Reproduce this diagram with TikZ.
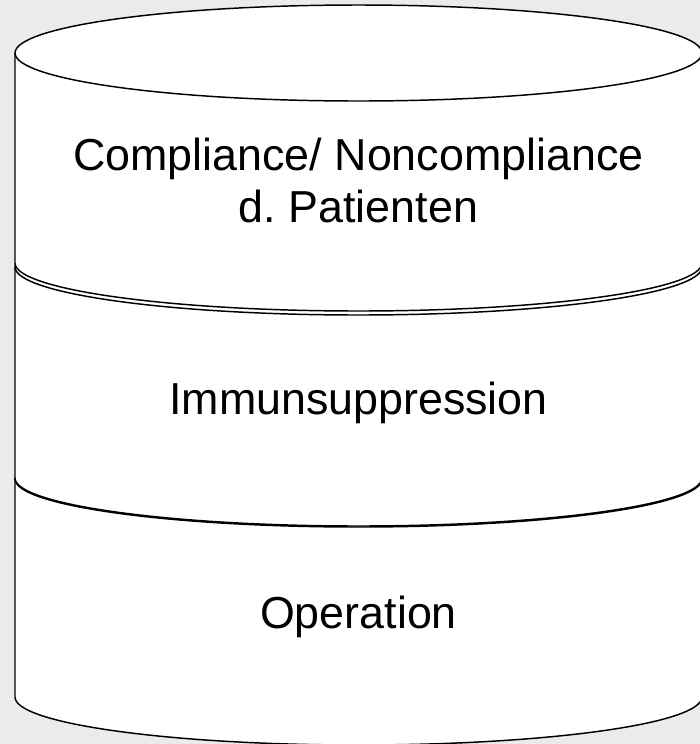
\documentclass[tikz,border=0pt]{standalone}
\usepackage{fontspec}
\setmainfont{Liberation Sans}
\definecolor{bggray}{RGB}{235,235,235}
\tikzset{
  cylline/.style={draw=black, line width=1.1pt, line join=round},
  cylfill/.style={fill=white},
  label/.style={inner sep=0pt, font=\fontsize{33.6}{38.6}\selectfont, align=center}
}
\newcommand{\cylpart}[2]{%
  \path[cylfill] (15,#1) -- (15,#2) arc[start angle=180, end angle=360, x radius=257.6pt, y radius=36pt] -- (702,#1) -- cycle;
  \draw[cylline] (15,#1) -- (15,#2) arc[start angle=180, end angle=360, x radius=257.6pt, y radius=36pt] -- (702,#1);
  \draw[cylline, cylfill] (358.5,#1) ellipse [x radius=257.6pt, y radius=36pt];
}
\begin{document}
\begin{tikzpicture}[x=0.75pt, y=-0.75pt]
\fill[bggray] (0,0) rectangle (700,744);
\useasboundingbox (0,0) rectangle (700,744);
\begin{scope}
\clip (0,0) rectangle (700,744);
\cylpart{479}{697}
\cylpart{267}{478}
\cylpart{53}{263}
\end{scope}
\node[label] (t1) at (358.5,180.5) {Compliance/ Noncompliance\\d.\ Patienten};
\node[label, anchor=base] (t2) at (358.5,414) {Immunsuppression};
\node[label, anchor=base] (t3) at (358.5,628) {Operation};
\end{tikzpicture}
\end{document}
